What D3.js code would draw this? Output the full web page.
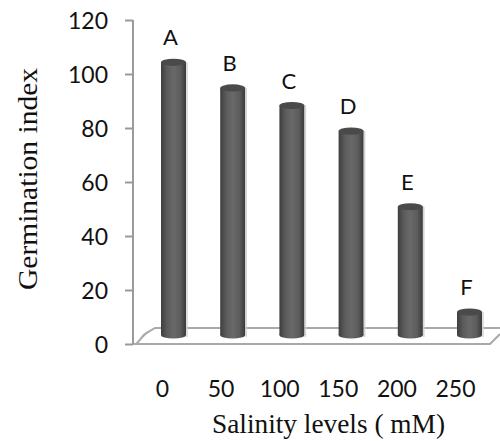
<!DOCTYPE html>
<html>
<head>
<meta charset="utf-8">
<script src="https://cdn.jsdelivr.net/npm/d3@7"></script>
<style>
  html, body { margin: 0; padding: 0; background: #fff; }
  svg { display: block; }
</style>
</head>
<body>
<svg id="chart" width="500" height="441"></svg>
<script>
// Germination index by salinity level
const categories = ["0", "50", "100", "150", "200", "250"];
const germinationIndex = [101, 91.5, 85, 75.5, 47.5, 8.5];
const letters = ["A", "B", "C", "D", "E", "F"];
const yTicks = [0, 20, 40, 60, 80, 100, 120];

const svg = d3.select("#chart");
const W = 500, H = 441;

const y = d3.scaleLinear().domain([0, 120]).range([344, 20]);
const x = d3.scalePoint().domain(categories).range([173.5, 469.5]);
const xLabel = d3.scalePoint().domain(categories).range([162, 455]);

const axisX = 133;
const depth = 9;        // bars stand midway into the floor
const barW = 25;
const ry = 3.6;
const sans = "Lato, 'Open Sans', sans-serif";
const serif = "'Liberation Serif', 'Times New Roman', serif";

// gradient for the cylinder body
const defs = svg.append("defs");
const grad = defs.append("linearGradient").attr("id", "cyl")
  .attr("x1", "0%").attr("x2", "100%").attr("y1", "0%").attr("y2", "0%");
[["0%", "#3e3e3e"], ["25%", "#5c5c5c"], ["50%", "#696969"], ["78%", "#5c5c5c"], ["100%", "#3a3a3a"]]
  .forEach(([o, c]) => grad.append("stop").attr("offset", o).attr("stop-color", c));

// floor
const floorColor = "#a9a9a9";
const floor = svg.append("g").attr("fill", "none").attr("stroke", floorColor).attr("stroke-width", 2);
floor.append("path").attr("d", `M${axisX + 3},${y(0)} C${axisX + 8},${y(0) - 4} ${axisX + 9},${y(0) - 9} ${axisX + 15},${y(0) - 12} L${axisX + 22},${y(0) - 16} L${W},${y(0) - 16}`);
floor.append("path").attr("d", `M${axisX},${y(0)} L490,${y(0)} L${W},${y(0) - 10}`);

// y axis
const yAxis = d3.axisLeft(y).tickValues(yTicks).tickSize(8).tickPadding(17).tickFormat(d3.format("d"));
const gy = svg.append("g").attr("transform", `translate(${axisX},0)`).call(yAxis);
gy.select(".domain").attr("stroke", "#9a9a9a").attr("stroke-width", 2).attr("d", `M0,${y(120)}V${y(0)}`);
gy.selectAll(".tick line").attr("stroke", "#9a9a9a").attr("stroke-width", 2);
gy.selectAll(".tick text")
  .attr("fill", "#111").attr("font-family", sans).attr("font-size", 23)
  .attr("dy", "0.36em");

// x axis labels
const xAxis = d3.axisBottom(xLabel).tickSize(0).tickPadding(0);
const gx = svg.append("g").attr("transform", `translate(0,380)`).call(xAxis);
gx.select(".domain").remove();
gx.selectAll(".tick text")
  .attr("fill", "#111").attr("font-family", sans).attr("font-size", 23)
  .attr("dy", "0.72em");

// cylinders
const data = categories.map((c, i) => ({ c, v: germinationIndex[i], l: letters[i] }));
const bars = svg.append("g").selectAll("g").data(data).join("g");
bars.append("ellipse")
  .attr("cx", d => x(d.c)).attr("cy", y(0) - depth)
  .attr("rx", barW / 2).attr("ry", ry).attr("fill", "url(#cyl)");
bars.append("rect")
  .attr("x", d => x(d.c) - barW / 2).attr("width", barW)
  .attr("y", d => y(d.v) - depth).attr("height", d => y(0) - y(d.v))
  .attr("fill", "url(#cyl)");
bars.append("line")
  .attr("x1", d => x(d.c) + barW / 2 + 1).attr("x2", d => x(d.c) + barW / 2 + 1)
  .attr("y1", d => y(d.v) - depth).attr("y2", y(0) - depth + 2)
  .attr("stroke", "#d4d4d4").attr("stroke-width", 1.5);
bars.append("ellipse")
  .attr("cx", d => x(d.c)).attr("cy", d => y(d.v) - depth)
  .attr("rx", barW / 2).attr("ry", ry).attr("fill", "#4a4a4a");

// significance letters
bars.append("text")
  .attr("x", d => x(d.c) - 3).attr("y", d => y(d.v) - depth - 17)
  .attr("text-anchor", "middle")
  .attr("font-family", sans).attr("font-size", 22)
  .attr("fill", "#111").text(d => d.l);

// axis titles
svg.append("text")
  .attr("x", 212).attr("y", 433)
  .attr("font-family", serif).attr("font-size", 27)
  .attr("textLength", 233).attr("lengthAdjust", "spacingAndGlyphs")
  .attr("fill", "#111").text("Salinity levels ( mM)");

svg.append("text")
  .attr("transform", "translate(37,290) rotate(-90)")
  .attr("font-family", serif).attr("font-size", 28)
  .attr("textLength", 222).attr("lengthAdjust", "spacingAndGlyphs")
  .attr("fill", "#111").text("Germination index");
</script>
</body>
</html>
